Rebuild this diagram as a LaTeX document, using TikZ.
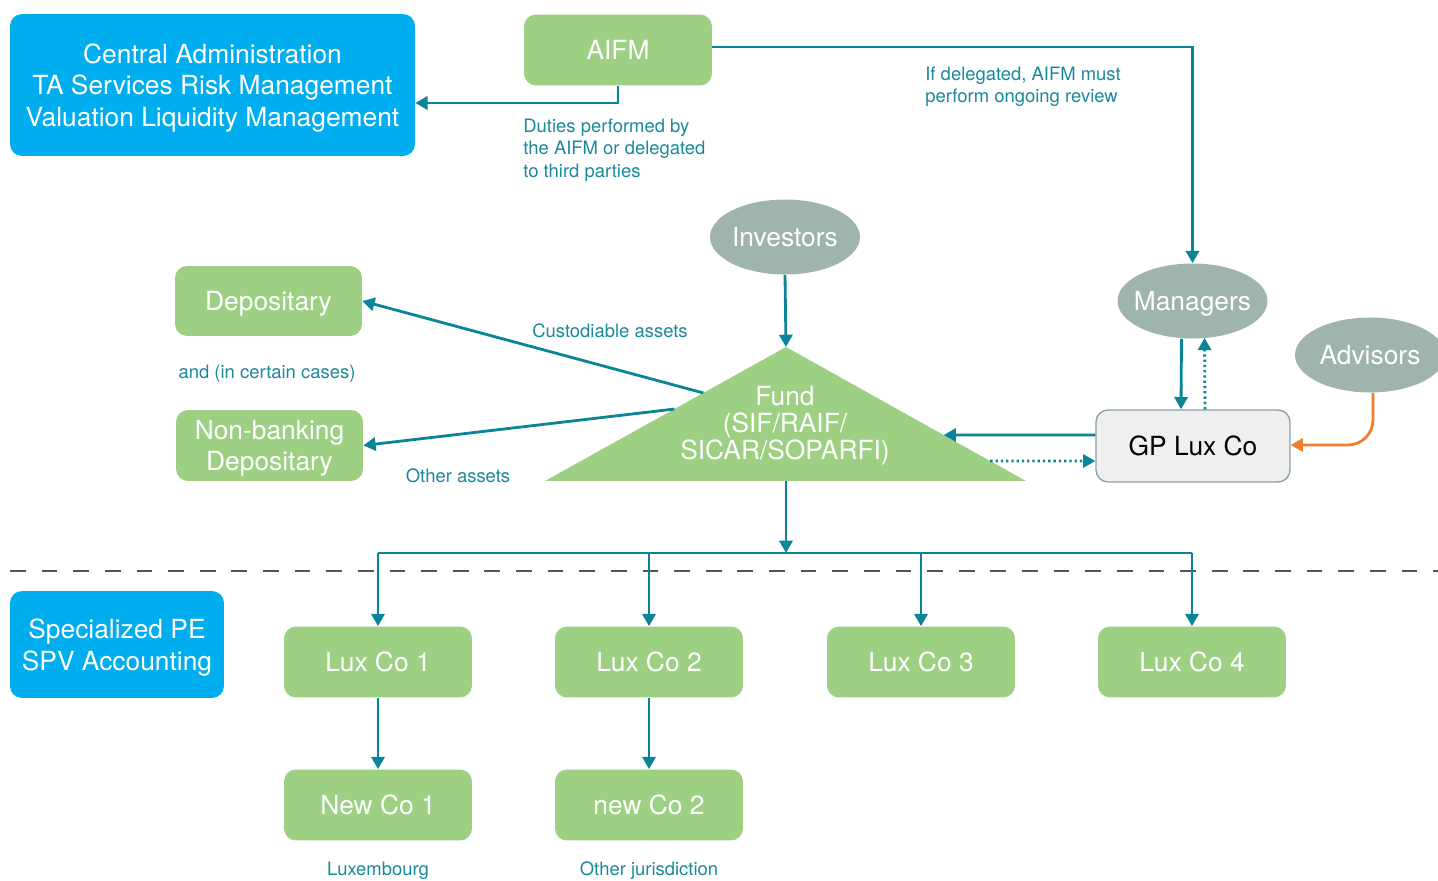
\documentclass[tikz,border=0pt]{standalone}
\usepackage{fontspec}
\setmainfont{TeX Gyre Heros}
\usepackage{tikz}
\usetikzlibrary{arrows.meta, shapes.geometric, calc}
\usepackage{xcolor}

\definecolor{adminblue}{HTML}{00AEEF}
\definecolor{boxgreen}{HTML}{9DD083}
\definecolor{ovalgray}{HTML}{9EB4AC}
\definecolor{lineteal}{HTML}{0A8497}
\definecolor{noteteal}{HTML}{19899B}
\definecolor{advorange}{HTML}{F07E2B}
\definecolor{gpfill}{HTML}{EFEFEF}
\definecolor{gpdraw}{HTML}{8BA2AA}
\definecolor{splitgray}{HTML}{555555}

\begin{document}
\begin{tikzpicture}[x=0.02cm, y=-0.02cm,
  bigtext/.style={font=\fontsize{15}{18}\selectfont, align=center, text depth=0pt},
  greenbox/.style={bigtext, rectangle, rounded corners=0.24cm, fill=boxgreen, text=white,
    minimum width=3.76cm, minimum height=1.42cm, inner sep=0pt},
  bluebox/.style={bigtext, rectangle, rounded corners=0.24cm, fill=adminblue, text=white, inner sep=0pt},
  oval/.style={bigtext, ellipse, fill=ovalgray, text=white,
    minimum width=3.0cm, minimum height=1.5cm, inner xsep=-6pt, inner ysep=0pt},
  note/.style={font=\fontsize{10.5}{12.8}\selectfont, text=noteteal, inner sep=0pt, align=left},
  conn/.style={-{Triangle[length=7pt, width=7.5pt]}, line width=1.6pt, lineteal},
  dotconn/.style={conn, dash pattern=on 1.3pt off 1.7pt},
]
  \clip (0,0) rectangle (1438,881);

  % top row
  \node[bluebox, minimum width=8.1cm, minimum height=2.84cm] (cadmin) at (212.5,85)
    {Central Administration\\TA Services Risk Management\\Valuation Liquidity Management};
  \node[greenbox] (aifm) at (618,50) {AIFM};
  \node[note, anchor=west] (duties) at (523,150) {Duties performed by\\the AIFM or delegated\\to third parties};
  \node[note, anchor=west] (review) at (925,87) {If delegated, AIFM must\\perform ongoing review};

  % the fund triangle
  \coordinate (apex) at (786,347);
  \coordinate (bl) at (545,481);
  \coordinate (br) at (1026,481);
  \fill[boxgreen] (apex) -- (br) -- (bl) -- cycle;
  \node[bigtext, text=white, font=\fontsize{15}{15.5}\selectfont] (fund) at (785,423)
    {Fund\\(SIF/RAIF/\\SICAR/SOPARFI)};
  \coordinate (fundbot) at (786,481);
  \coordinate (custout) at ($(apex)!0.343!(bl)$);
  \coordinate (otherout) at ($(apex)!0.463!(bl)$);
  \coordinate (gpin) at ($(apex)!0.657!(br)$);
  \coordinate (gpout) at ($(apex)!0.851!(br)$);

  % parties around the fund
  \node[oval] (investors) at (785,237) {Investors};
  \node[oval] (managers) at (1192.5,301) {Managers};
  \node[oval] (advisors) at (1370,355) {Advisors};
  \node[greenbox, minimum width=3.74cm, minimum height=1.40cm] (depo) at (268.5,301) {Depositary};
  \node[greenbox, minimum width=3.74cm, minimum height=1.42cm] (nbdepo) at (269.5,445.5) {Non-banking\\Depositary};
  \node[note] (certain) at (267,374) {and (in certain cases)};
  \node[note] (custlbl) at (610,331) {Custodiable assets};
  \node[note] (otherlbl) at (458,476) {Other assets};
  \node[bigtext, rectangle, rounded corners=0.24cm, fill=gpfill, draw=gpdraw, line width=0.8pt,
    minimum width=3.88cm, minimum height=1.44cm, inner sep=0pt] (gplux) at (1193,446) {GP Lux Co};

  % split line
  \draw[splitgray, line width=1pt, dash pattern=on 9pt off 9pt] (10,571) -- (1438,571);

  % SPVs
  \node[bluebox, minimum width=4.28cm, minimum height=2.14cm] (spv) at (117,644.5) {Specialized PE\\SPV Accounting};
  \foreach \i/\x in {1/378, 2/649, 3/921, 4/1192}
    \node[greenbox] (lux\i) at (\x,662) {Lux Co \i};
  \node[greenbox] (newco1) at (378,805) {New Co 1};
  \node[greenbox] (newco2) at (649,805) {new Co 2};
  \node[note] (luxlbl) at (378,871) {Luxembourg};
  \node[note] (jurlbl) at (649,871) {Other jurisdiction};

  % connectors
  \draw[conn] (aifm.south) |- ($(cadmin.east)+(0,18)$);
  \draw[conn] ($(aifm.east)+(0,-3)$) -| (managers.north);
  \draw[conn] (investors.south) -- (apex);
  \draw[conn] (custout) -- (depo.east);
  \draw[conn] (otherout) -- (nbdepo.east);
  \draw[conn] ($(gplux.west)+(0,-11)$) -- (gpin);
  \draw[dotconn] (gpout) -- ($(gplux.west)+(0,15)$);
  \draw[conn] ($(managers.south)+(-11,0)$) -- ($(gplux.north)+(-12,0)$);
  \draw[dotconn] ($(gplux.north)+(12,0)$) -- ($(managers.south)+(12,-1)$);
  \draw[conn, advorange, rounded corners=0.5cm] ($(advisors.south)+(3,0)$) |- ($(gplux.east)+(0,-1)$);

  \coordinate (bus) at (786,553);
  \draw[conn] (fundbot) -- (bus);
  \draw[line width=1.6pt, lineteal] (lux1.north |- bus) -- (lux4.north |- bus);
  \foreach \i in {1,...,4}
    \draw[conn] (lux\i.north |- bus) -- (lux\i.north);
  \draw[conn] (lux1) -- (newco1);
  \draw[conn] (lux2) -- (newco2);
\end{tikzpicture}
\end{document}
